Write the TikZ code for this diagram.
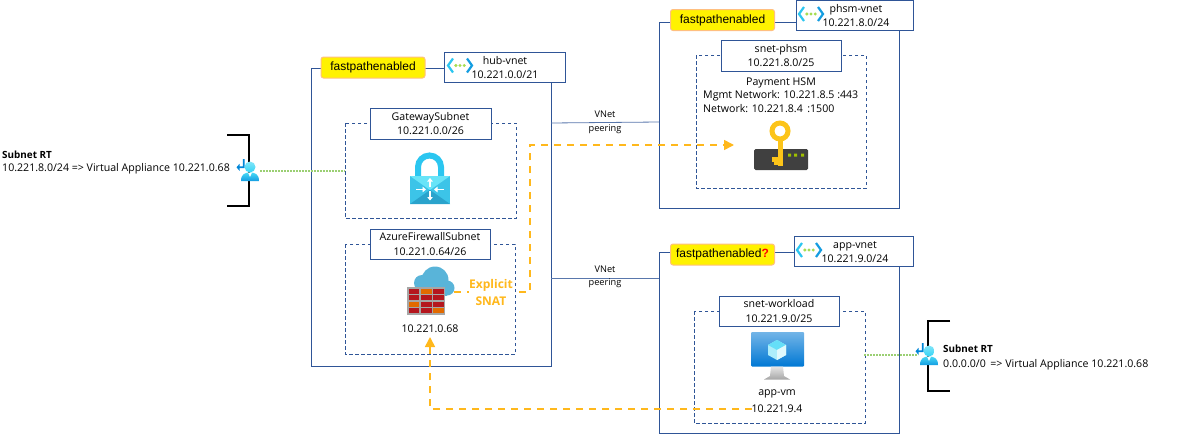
\documentclass[tikz,border=0pt]{standalone}
\usepackage{fontspec}
\setmainfont{Open Sans}
\newfontfamily\arialf{Liberation Sans}
\usetikzlibrary{arrows.meta}
\definecolor{navy}{HTML}{2F5597}
\definecolor{orangeline}{HTML}{FFB81C}
\definecolor{dotgreen}{HTML}{9BCF73}
\definecolor{keyy}{HTML}{FCC419}
\definecolor{azb}{HTML}{0078D4}
\definecolor{azc}{HTML}{32D4F5}
\definecolor{cloudb}{HTML}{59B4D9}
\definecolor{brickr}{HTML}{B5161E}
\definecolor{bricko}{HTML}{E26A00}
\definecolor{lockm}{HTML}{3CC4E8}
\definecolor{lockt}{HTML}{68E4F8}
\definecolor{lockb}{HTML}{2AA3CC}
\tikzset{
 vnetbox/.style={draw=navy,line width=0.9pt},
 subnetdash/.style={draw=navy,line width=0.8pt,dash pattern=on 3.5pt off 2.5pt},
 labelbox/.style={draw=navy,fill=white,line width=1pt,align=center,inner sep=0pt,font=\fontsize{10.6}{14.5}\selectfont},
 plain/.style={align=center,inner sep=0pt,font=\fontsize{10.6}{14.5}\selectfont},
 fastbox/.style={draw=orange!50!white,fill=yellow,rounded corners=2.5pt,line width=1pt,inner sep=0pt,font=\arialf\fontsize{12}{14}\selectfont},
 peerline/.style={draw=navy!80,line width=0.8pt},
 greendot/.style={draw=dotgreen,line width=1.7pt,dash pattern=on 1.6pt off 1.4pt},
 flow/.style={draw=orangeline,line width=1.7pt,dash pattern=on 7pt off 6pt,-{Triangle[length=10pt,width=10pt]}},
 bracket/.style={draw=black,line width=1.6pt},
 peerlabel/.style={align=center,inner sep=0pt,font=\fontsize{9.2}{13.5}\selectfont},
 rthead/.style={align=center,inner sep=0pt,font=\bfseries\fontsize{9.9}{14}\selectfont},
}
\newcommand{\vneticon}[2]{%
 \begin{scope}[shift={(#1,#2)}]
 \draw[azc!85!azb,line width=2.2pt] (-7,-7)--(-12,0)--(-7,7);
 \draw[azb!60!azc,line width=2.2pt] (7,-7)--(12,0)--(7,7);
 \fill[dotgreen!70!lime] (-4.2,0) circle(1.7) (0,0) circle(1.7) (4.2,0) circle(1.7);
 \end{scope}}
\newcommand{\rticon}[2]{%
 \begin{scope}[shift={(#1,#2)}]
 \fill[azb!90!cyan] (-7.2,-7) rectangle (-5.3,2.2) (-11,0.4) rectangle (-5.3,2.2);
 \fill[azb!90!cyan] (-13.5,1.3) -- (-10.5,-2.2) -- (-10.5,4.8) -- cycle;
 \shade[top color=azc!90!white,bottom color=azb!60!azc] (-9,15) .. controls (-9,8) and (-5,6.5) .. (0,6.5) .. controls (5,6.5) and (9,8) .. (9,15) -- cycle;
 \fill[white] (-2,6.5) -- (2,6.5) -- (0,11) -- cycle;
 \shade[top color=azc!60!white,bottom color=azc] (0,1) circle (5.5);
 \end{scope}}
\begin{document}
\begin{tikzpicture}[x=1pt,y=-1pt]
\useasboundingbox (0,0) rectangle (1193,434);
% VNet frames
\coordinate (hubA) at (311,68); \coordinate (hubB) at (551,366);
\coordinate (phA) at (659,22); \coordinate (phB) at (899,208);
\coordinate (apA) at (659,252); \coordinate (apB) at (899,433);
\draw[vnetbox] (hubA) rectangle (hubB);
\draw[vnetbox] (phA) rectangle (phB);
\draw[vnetbox] (apA) rectangle (apB);
% subnets
\draw[subnetdash] (345,123) rectangle (516,218);
\draw[subnetdash] (345,244) rectangle (515,354);
\draw[subnetdash] (696,55) rectangle (866,188);
\draw[subnetdash] (694,311) rectangle (865,423);
% peering
\coordinate (p1a) at (551,123); \coordinate (p1b) at (659,122);
\coordinate (p2a) at (551,278); \coordinate (p2b) at (659,278);
\draw[peerline] (p1a)--(p1b);
\draw[peerline] (p2a)--(p2b);
\node[peerlabel] (peer1) at (605,122.5) {VNet\\peering};
\node[peerlabel] (peer2) at (605,277) {VNet\\peering};
% labels
\node[fastbox,minimum width=104pt,minimum height=21pt] (fp1) at (373,67.5) {fastpathenabled};
\node[fastbox,minimum width=104pt,minimum height=21pt] (fp2) at (722.5,20) {fastpathenabled};
\node[fastbox,minimum width=104pt,minimum height=21pt] (fp3) at (722.5,254.5) {fastpathenabled{\color{red}\bfseries ?}};
\node[draw=navy,fill=white,line width=1pt,minimum width=121pt,minimum height=30pt,inner sep=0] (hubl) at (504.5,67) {};
\node[draw=navy,fill=white,line width=1pt,minimum width=117pt,minimum height=30pt,inner sep=0] (phl) at (854.5,15) {};
\node[draw=navy,fill=white,line width=1pt,minimum width=119pt,minimum height=30pt,inner sep=0] (apl) at (853.5,251) {};
\node[plain] (hubt) at (505,67.5) {hub-vnet\\10.221.0.0/21};
\node[plain] (pht) at (856,15.5) {phsm-vnet\\10.221.8.0/24};
\node[plain] (apt) at (855,252) {app-vnet\\10.221.9.0/24};
\vneticon{460}{65.5}
\vneticon{811}{14}
\vneticon{809}{250}
\node[labelbox,minimum width=121pt,minimum height=31pt] (s1) at (430.5,123.5) {GatewaySubnet\\10.221.0.0/26};
\node[labelbox,minimum width=120pt,minimum height=30pt] (s2) at (430,244) {AzureFirewallSubnet\\10.221.0.64/26};
\node[labelbox,minimum width=120pt,minimum height=31pt] (s3) at (781,55.5) {snet-phsm\\10.221.8.0/25};
\node[labelbox,minimum width=120pt,minimum height=30pt] (s4) at (779,311) {snet-workload\\10.221.9.0/25};
% Lock
\draw[azc!85!azb,line width=6pt] (418,180) -- (418,167) arc (180:360:11.5) -- (441,180);
\fill[lockm] (410,176) rectangle (450,204);
\fill[lockt] (410,176) -- (450,176) -- (430,190) -- cycle;
\fill[lockb] (410,204) -- (450,204) -- (430,190) -- cycle;
\begin{scope}[white,line width=1.4pt,-{Triangle[length=3.5pt,width=5.5pt]}]
\draw (430,187) -- (430,178);
\draw (430,191) -- (430,200.5);
\draw (416,189.5) -- (426,189.5);
\draw (444,189.5) -- (434,189.5);
\end{scope}
% Firewall
\fill[cloudb] (435,280) circle (13.5) (422,283) circle (8) (447,288) circle (7.5);
\fill[cloudb] (420,283) rectangle (447,296);
\fill[gray!70] (407,287) rectangle (445,315);
\foreach \r/\cA/\cB/\cC in {0/brickr/bricko/brickr,1/brickr/brickr/brickr,2/bricko/brickr/brickr,3/brickr/brickr/bricko}{
 \fill[\cA] (408.5,{288.5+6.6*\r}) rectangle +(10.5,5);
 \fill[\cB] (421,{288.5+6.6*\r}) rectangle +(10.5,5);
 \fill[\cC] (433,{288.5+6.6*\r}) rectangle +(10.5,5);
}
\node[plain] (fwip) at (430,329) {10.221.0.68};
% HSM
\fill[black!75,rounded corners=1.5pt] (754,149) rectangle (808,170);
\fill[lime!50!olive] (788,153.5) rectangle +(3,3) (794,153.5) rectangle +(3,3) (801,153.5) rectangle +(3,3);
\draw[keyy,line width=5pt] (780,131) circle (8);
\fill[keyy] (777.5,139) rectangle (783,165.5);
\fill[keyy] (772,156.5) rectangle (778,161.5);
\fill[keyy] (774,161) rectangle (778,165);
\node[plain,anchor=north west] (hsm2) at (703,90) {Mgmt Network: 10.221.8.5 :443};
\node[plain,anchor=north west] (hsm3) at (703,104) {Network: 10.221.8.4 \,:1500};
\node[plain] (hsm1) at (781,83) {Payment HSM};
% VM
\shade[top color=azb!55!white,bottom color=azb,rounded corners=1pt] (751,332) rectangle (804,366.5);
\shade[top color=gray!20,bottom color=gray!70] (771,366.5) -- (783,366.5) -- (784,376) -- (790,379.5) -- (764,379.5) -- (770,376) -- cycle;
\fill[azc!40!white] (777,340) -- (786,345) -- (786,355) -- (777,360) -- (768,355) -- (768,345) -- cycle;
\fill[azc!75!white] (777,340) -- (786,345) -- (777,350) -- (768,345) -- cycle;
\fill[azc!15!white] (777,350) -- (786,345) -- (786,355) -- (777,360) -- cycle;
\node[plain] (vm1) at (777,394) {app-vm};
\node[plain] (vm2) at (777,408.5) {10.221.9.4};
% flows
\coordinate (f1a) at (454,292); \coordinate (f1b) at (530,292); \coordinate (f1c) at (530,145); \coordinate (hsmtip) at (734,145);
\draw[flow] (f1a) -- (f1b) -- (f1c) -- (hsmtip);
\coordinate (f2a) at (752,409); \coordinate (f2b) at (430,409); \coordinate (fwtip) at (430,337);
\draw[flow] (f2a) -- (f2b) -- (fwtip);
\node[align=center,inner sep=0.5pt,fill=white,text=orangeline,font=\bfseries\fontsize{12}{17}\selectfont] (snat) at (491,292.5) {Explicit\\SNAT};
% route tables
\coordinate (b1a) at (227,135); \coordinate (b1b) at (249,135); \coordinate (b1c) at (249,206); \coordinate (b1d) at (227,206);
\draw[bracket] (b1a)--(b1b)--(b1c)--(b1d);
\coordinate (b2a) at (950,321); \coordinate (b2b) at (928,321); \coordinate (b2c) at (928,391); \coordinate (b2d) at (950,391);
\draw[bracket] (b2a)--(b2b)--(b2c)--(b2d);
\rticon{250}{166}
\rticon{929}{350}
\coordinate (g1a) at (260,171); \coordinate (g1b) at (345,171);
\draw[greendot] (g1a)--(g1b);
\coordinate (g2a) at (864,355); \coordinate (g2b) at (918,355);
\draw[greendot] (g2a)--(g2b);
\node[rthead,anchor=west] (rt1h) at (2,154.5) {Subnet RT};
\node[plain,anchor=west] (rt1) at (2,168.5) {10.221.8.0/24 => Virtual Appliance 10.221.0.68};
\node[rthead,anchor=west] (rt2h) at (943,349) {Subnet RT};
\node[plain,anchor=west] (rt2) at (943,364.5) {0.0.0.0/0 \,=> Virtual Appliance 10.221.0.68};
\end{tikzpicture}
\end{document}
